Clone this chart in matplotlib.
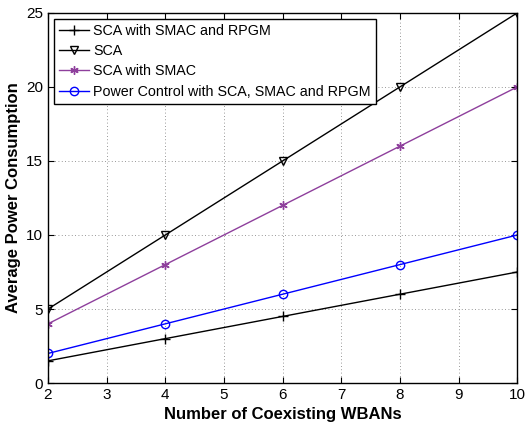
import matplotlib
matplotlib.use("Agg")
import matplotlib.pyplot as plt

plt.rcParams['font.family'] = ['Liberation Sans', 'DejaVu Sans']

x = [2, 4, 6, 8, 10]
sca_smac_rpgm = [1.5, 3, 4.5, 6, 7.5]
sca = [5, 10, 15, 20, 25]
sca_smac = [4, 8, 12, 16, 20]
power_ctrl = [2, 4, 6, 8, 10]
labels = ['SCA with SMAC and RPGM', 'SCA', 'SCA with SMAC',
          'Power Control with SCA, SMAC and RPGM']

fig = plt.figure(figsize=(5.25, 4.28), dpi=100)
ax = fig.add_axes([0.0914, 0.105, 0.894, 0.865])

ax.plot(x, sca_smac_rpgm, color='black', marker='+', markersize=7, lw=1, label=labels[0])
ax.plot(x, sca, color='black', marker='v', markersize=6, mfc='none', lw=1, label=labels[1])
ax.plot(x, sca_smac, color='#8e3f9c', marker=(6, 2, 0), markersize=6, mew=1, lw=1, label=labels[2])
ax.plot(x, power_ctrl, color='blue', marker='o', markersize=6, mfc='none', lw=1, label=labels[3])

ax.set_xlim(2, 10)
ax.set_ylim(0, 25)
ax.set_xticks(range(2, 11))
ax.set_yticks([0, 5, 10, 15, 20, 25])
ax.tick_params(direction='in', top=True, right=True, labelsize=11, length=4)
ax.grid(True, linestyle=(0, (1, 3)), color='#777777', lw=0.6)
for s in ax.spines.values():
    s.set_linewidth(1)

ax.set_xlabel('Number of Coexisting WBANs', fontsize=12, fontweight='bold')
ax.set_ylabel('Average Power Consumption', fontsize=12, fontweight='bold')

leg = ax.legend(loc='upper left', fontsize=10.3, fancybox=False, framealpha=1,
                edgecolor='black', borderaxespad=0.4, handlelength=2.1,
                labelspacing=0.45, borderpad=0.35, handletextpad=0.3)
leg.get_frame().set_linewidth(1)

fig.savefig('out.png', dpi=100)
